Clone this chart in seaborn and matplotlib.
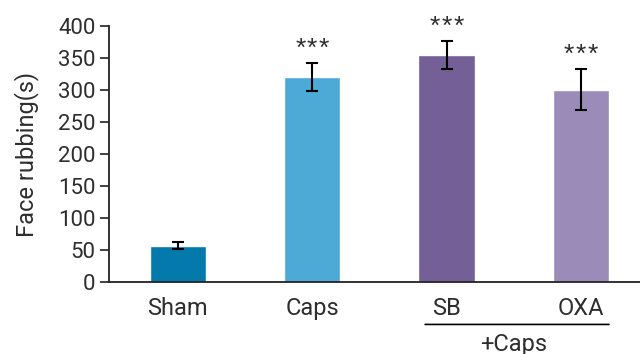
import matplotlib
matplotlib.use("Agg")
import matplotlib.pyplot as plt
import seaborn as sns
import numpy as np

groups = ["Sham", "Caps", "SB", "OXA"]
means = [57, 320, 354, 300]
sems = [5, 22, 22, 32]
stars = [0, 3, 3, 3]
colors = ["#0479AB", "#4DA9D5", "#745F96", "#9A8BB8"]
y_ticks = [0, 50, 100, 150, 200, 250, 300, 350, 400]

sns.set_theme(style="ticks")
plt.rcParams["font.family"] = ["Roboto", "DejaVu Sans"]

text_color = "#2e2e2e"

fig = plt.figure(figsize=(6.4, 3.54), dpi=100)
ax = fig.add_axes([0.170, 0.203, 0.830, 0.724])

sns.barplot(x=groups, y=means, hue=groups, palette=colors, legend=False,
            width=0.42, saturation=1, ax=ax)

xs = np.arange(len(groups))
ax.errorbar(xs, means, yerr=sems, fmt="none", ecolor="black",
            elinewidth=1.5, capsize=4.5, capthick=1.5)

# significance marks above the error bars
for x, m, s, n in zip(xs, means, sems, stars):
    for k in range(n):
        dx = (k - (n - 1) / 2) * 8.6
        ax.annotate("*", (x, m + s), xytext=(dx, 1.5), textcoords="offset points",
                    ha="center", va="bottom", fontsize=19, color=text_color,
                    family="Liberation Sans")

ax.set_ylim(0, 400)
ax.set_xlim(-0.514, 3.44)
ax.set_yticks(y_ticks)
ax.tick_params(axis="y", labelsize=16, length=6.5, width=1.2, colors="#222222",
               labelcolor=text_color, pad=3)
ax.tick_params(axis="x", length=0, labelsize=17, labelcolor=text_color, pad=11)
ax.set_xlabel("")
ax.set_ylabel("Face rubbing(s)", fontsize=17, color=text_color, labelpad=14)

for side in ["top", "right"]:
    ax.spines[side].set_visible(False)
for side in ["left", "bottom"]:
    ax.spines[side].set_linewidth(1.3)
    ax.spines[side].set_color("#222222")

# bracket grouping the treated conditions
ax.annotate("", xy=(1.82, -0.165), xytext=(3.23, -0.165),
            xycoords=("data", "axes fraction"),
            arrowprops=dict(arrowstyle="-", color="black", lw=1.2))
ax.text(2.5, -0.2, "+Caps", transform=ax.get_xaxis_transform(),
        ha="center", va="top", fontsize=17, color=text_color)

fig.savefig("out.png", dpi=100)
